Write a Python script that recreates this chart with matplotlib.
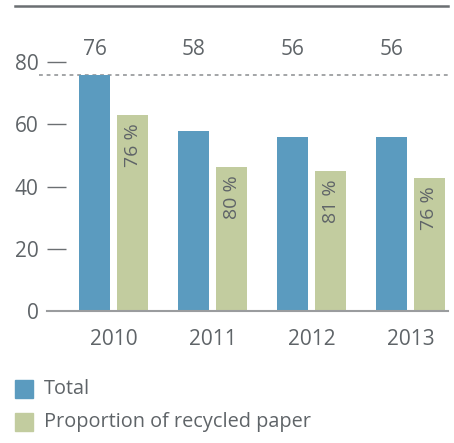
import matplotlib
matplotlib.use('Agg')
import matplotlib.pyplot as plt
from matplotlib.patches import Rectangle
from matplotlib.lines import Line2D
import numpy as np

plt.rcParams['font.family'] = ['Open Sans', 'DejaVu Sans']

years = ['2010', '2011', '2012', '2013']
total = [76, 58, 56, 56]
recycled = [63, 46.3, 45, 42.8]
recycled_share = ['76 %', '80 %', '81 %', '76 %']
legend_labels = ['Total', 'Proportion of recycled paper']

blue = '#5b9bbf'
green = '#c2cc9f'
txt = '#5f6468'

W, H = 454, 443
fig = plt.figure(figsize=(W / 100, H / 100), dpi=100)

# axes placed in pixel terms
left, right = 47, 448
y0, ytop = 311, 31
ax = fig.add_axes([left / W, (H - y0) / H, (right - left) / W, (y0 - ytop) / H])

x = np.arange(len(years))
bw = 0.313
off = 0.192
ax.bar(x - off, total, bw, color=blue, zorder=2)
ax.bar(x + off, recycled, bw, color=green, zorder=2)

ax.set_xlim(-0.672, 3.379)
ax.set_ylim(0, 90)

# value labels above
for xi, v in zip(x, total):
    ax.text(xi - off, 84, f'{v}', ha='center', va='center', fontsize=15, color=txt)

# share labels inside green bars
for xi, v, s in zip(x, recycled, recycled_share):
    ax.text(xi + off, v - 2.7, s, rotation=90, ha='center', va='top', fontsize=14, color=txt)

# dotted reference line at the 2010 total
ax.axhline(total[0], xmin=-8 / (right - left), xmax=1, color='#8a8d90', lw=1.1,
           linestyle=(0, (2.5, 2.5)), clip_on=False, zorder=1)

for s in ['top', 'right', 'left']:
    ax.spines[s].set_visible(False)
ax.spines['bottom'].set_color('#9a9c9e')
ax.spines['bottom'].set_linewidth(1.5)

ax.set_yticks([0, 20, 40, 60, 80])
ax.tick_params(axis='y', direction='in', length=14, width=1.0, color='#6b6f72',
               labelsize=15, labelcolor=txt, pad=6)
ax.yaxis.get_major_ticks()[0].tick1line.set_visible(False)
ax.set_xticks(x)
ax.set_xticklabels(years)
ax.tick_params(axis='x', length=0, labelsize=15, labelcolor=txt, pad=13)

# top rule
fig.add_artist(Line2D([15 / W, 448 / W], [(H - 6) / H, (H - 6) / H], color='#6b6f72', lw=1.8))

# legend
for i, (lab, c) in enumerate(zip(legend_labels, [blue, green])):
    ytop_px = 380 + i * 33
    fig.add_artist(Rectangle((15 / W, (H - ytop_px - 18) / H), 18 / W, 18 / H,
                             color=c, transform=fig.transFigure))
    fig.text(44 / W, (H - ytop_px - 9) / H, lab, ha='left', va='center',
             fontsize=14.3, color=txt)

fig.savefig('out.png', dpi=100)
